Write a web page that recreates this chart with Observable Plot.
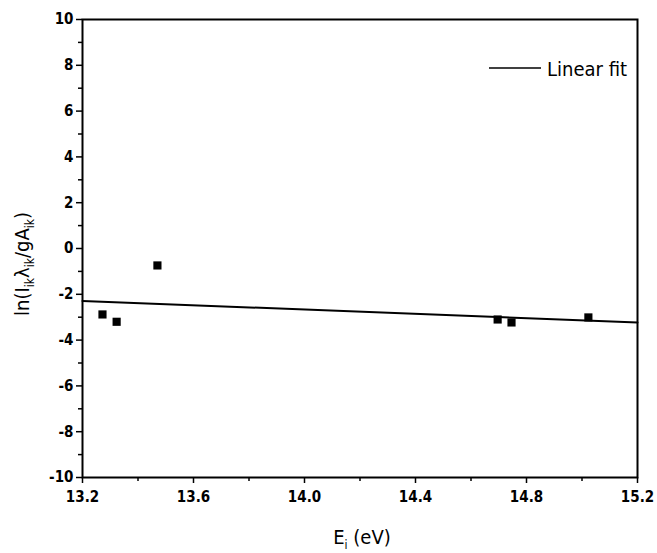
<!DOCTYPE html>
<html><head><meta charset="utf-8">
<script src="https://cdn.jsdelivr.net/npm/d3@7"></script>
<script src="https://cdn.jsdelivr.net/npm/@observablehq/plot@0.6"></script>
<style>
body{margin:0;background:#fff;}
#chart svg{display:block;}
</style>
</head><body><div id="chart"></div>
<script>
// Data
const energies = [13.272, 13.323, 13.470, 14.696, 14.746, 15.023];   // E_i (eV)
const lnValues = [-2.88, -3.20, -0.74, -3.10, -3.23, -3.01];          // ln(I λ / gA)
const fitEnergies = [13.2, 15.2];
const fitValues = [-2.29, -3.23];
const xMajorTicks = [13.2, 13.6, 14.0, 14.4, 14.8, 15.2];
const xMinorTicks = [13.4, 13.8, 14.2, 14.6, 15.0];
const yMajorTicks = [-10, -8, -6, -4, -2, 0, 2, 4, 6, 8, 10];
const yMinorTicks = [-9, -7, -5, -3, -1, 1, 3, 5, 7, 9];
const legendLabel = "Linear fit";

const points = energies.map((e, i) => ({e, v: lnValues[i]}));
const fit = fitEnergies.map((e, i) => ({e, v: fitValues[i]}));

const font = "'DejaVu Sans Condensed', 'DejaVu Sans', sans-serif";

const chart = Plot.plot({
  width: 657,
  height: 553,
  marginLeft: 82,
  marginRight: 20,
  marginTop: 19,
  marginBottom: 76,
  style: {fontFamily: font, fontSize: "15px", color: "black", background: "white"},
  x: {domain: [13.2, 15.2]},
  y: {domain: [-10, 10]},
  marks: [
    Plot.axisX(xMajorTicks, {tickSize: 6, tickPadding: 8, strokeWidth: 1.5, tickFormat: d3.format(".1f"), fontSize: 15, fontWeight: "bold", label: null}),
    Plot.axisX(xMinorTicks, {tickSize: 4, strokeWidth: 1.5, tickFormat: () => "", label: null}),
    Plot.axisY(yMajorTicks, {tickSize: 6, tickPadding: 3, strokeWidth: 1.5, tickFormat: d => String(d), fontSize: 15, fontWeight: "bold", label: null}),
    Plot.axisY(yMinorTicks, {tickSize: 4, strokeWidth: 1.5, tickFormat: () => "", label: null}),
    Plot.frame({stroke: "black", strokeWidth: 2}),
    Plot.line(fit, {x: "e", y: "v", stroke: "black", strokeWidth: 2}),
    Plot.dot(points, {x: "e", y: "v", symbol: "square", r: 4.6, fill: "black", stroke: "none"})
  ]
});

document.getElementById("chart").appendChild(chart);

const svg = d3.select(chart);

// Y axis title with subscripts
const yl = svg.append("text")
  .attr("transform", "translate(29,264) rotate(-90)")
  .attr("text-anchor", "middle")
  .attr("font-family", font)
  .attr("font-size", 20)
  .attr("fill", "black");
yl.append("tspan").text("ln(I");
yl.append("tspan").attr("font-size", 12).attr("dy", 5).text("ik");
yl.append("tspan").attr("dy", -5).text("λ");
yl.append("tspan").attr("font-size", 12).attr("dy", 5).text("ik");
yl.append("tspan").attr("dy", -5).text("/gA");
yl.append("tspan").attr("font-size", 12).attr("dy", 5).text("ik");
yl.append("tspan").attr("dy", -5).text(")");

// X axis title
const xl = svg.append("text")
  .attr("x", 362).attr("y", 544)
  .attr("text-anchor", "middle")
  .attr("font-family", font)
  .attr("font-size", 20)
  .attr("fill", "black");
xl.append("tspan").text("E");
xl.append("tspan").attr("font-size", 12).attr("dy", 5).text("i");
xl.append("tspan").attr("dy", -5).text(" (eV)");

// Legend
const lg = svg.append("g");
lg.append("line").attr("x1", 489).attr("x2", 541).attr("y1", 68).attr("y2", 68)
  .attr("stroke", "black").attr("stroke-width", 1.5);
lg.append("text").attr("x", 547).attr("y", 76)
  .attr("text-anchor", "start")
  .attr("font-family", font).attr("font-size", 20).attr("fill", "black")
  .text(legendLabel);
</script>
</body></html>
